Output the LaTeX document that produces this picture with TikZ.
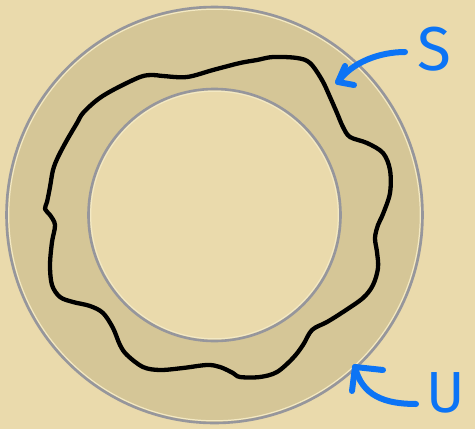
\documentclass[tikz,border=0pt]{standalone}
\usepackage{fontspec}
\newfontfamily\handfont{Fira Sans}
\definecolor{parch}{RGB}{234,218,172}
\definecolor{ring}{RGB}{213,198,151}
\definecolor{rim}{RGB}{150,150,156}
\definecolor{hl}{RGB}{243,233,196}
\definecolor{pen}{RGB}{12,116,245}
\tikzset{
  curveline/.style={black, line width=4.3pt, line cap=round, line join=round},
  penline/.style={pen, line width=6pt, line cap=round, line join=round},
  letter/.style={text=pen, inner sep=0pt, font=\handfont\fontsize{62}{62}\selectfont},
  letterlow/.style={text=pen, inner sep=0pt, font=\handfont\fontsize{58}{58}\selectfont}
}
\begin{document}
\begin{tikzpicture}[x=1pt,y=-1pt]
\fill[parch] (0,0) rectangle (475,429);
\useasboundingbox (0,0) rectangle (475,429);
\coordinate (C) at (214.5,215);
\fill[ring, even odd rule] (C) circle (208pt) (C) circle (126pt);
\draw[hl, line width=1.2pt] (C) circle (205.8pt);
\draw[hl, line width=1.2pt] (C) circle (123.8pt);
\draw[rim, line width=2.6pt] (C) circle (208pt);
\draw[rim, line width=2.6pt] (C) circle (126pt);
% wavy curve
\draw[curveline] plot[smooth cycle, tension=0.55] coordinates {
(240,63) (257,60) (273,57) (297,58) (310,63) (322,80) (330,97) (337,113)
(343,127) (350,137) (367,143) (383,153) (390,170) (390,193) (383,214)
(378,225) (375,238) (377,252) (378,268) (373,285) (363,298) (343,312)
(327,322) (312,330) (303,345) (293,358) (277,372) (260,377) (240,377)
(233,373) (220,367) (207,365) (183,368) (160,370) (143,367) (127,355)
(120,345) (113,328) (103,313) (90,306) (73,302) (60,297) (52,285)
(50,265) (52,242) (55,225) (50,215) (45,209) (47,202) (50,187) (53,170)
(58,157) (67,140) (77,123) (83,113) (97,100) (113,90) (140,77) (153,75)
(163,76) (187,77) (213,70)};
% labels
\node[letter] (S) at (434,49) {S};
\node[letterlow] (U) at (446,393) {U};
% arrow S
\coordinate (Sstart) at (405,52);
\coordinate (Stip) at (338,82);
\coordinate (Sb1) at (345,66);
\coordinate (Sb2) at (354,85);
\draw[penline] (Sstart) .. controls (380,52) and (352,62) .. (Stip);
\draw[penline] (Sb1) -- (Stip) -- (Sb2);
% arrow U
\coordinate (Ustart) at (416,404);
\coordinate (Utip) at (355,367);
\coordinate (Ub1) at (352,391);
\coordinate (Ub2) at (383,370);
\draw[penline] (Ustart) .. controls (385,404) and (362,396) .. (Utip);
\draw[penline] (Ub1) -- (Utip) -- (Ub2);
\end{tikzpicture}
\end{document}
